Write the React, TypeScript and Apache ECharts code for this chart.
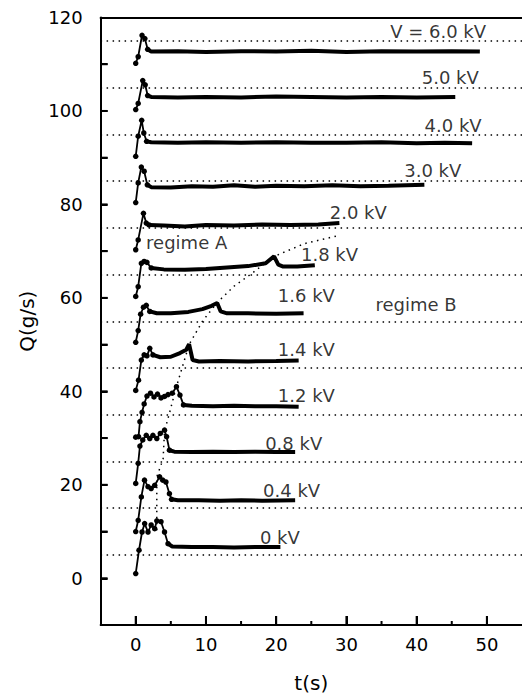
import React, { useEffect, useRef } from "react";
import * as echarts from "echarts";

const FONT = "'DejaVu Sans', 'Liberation Sans', Arial, sans-serif";

// dotted reference levels
const guideLevels = [5, 15, 25, 35, 45, 55, 65, 75, 85, 95, 105, 115];

// 6.0 kV
const rise60 = [[0, 110.2], [0.35, 111.6], [0.9, 116.2], [1.3, 115.5], [1.7, 113.2]];
const flat60 = [[1.7, 113.2], [2.2, 112.7], [6, 112.8], [10, 112.6], [15, 112.8], [20, 112.7], [25, 112.9], [30, 112.6], [35, 112.8], [40, 112.7], [45, 112.8], [49, 112.7]];
// 5.0 kV
const rise50 = [[0, 100.3], [0.35, 101.6], [1.0, 106.5], [1.35, 105.6], [1.7, 103.3]];
const flat50 = [[1.7, 103.3], [2.2, 103.0], [6, 102.9], [10, 103.0], [15, 102.9], [20, 103.1], [25, 103.0], [30, 102.9], [35, 103.0], [40, 102.9], [45.5, 103.0]];
// 4.0 kV
const rise40 = [[0, 90.3], [0.35, 94.6], [0.85, 98.0], [1.15, 95.3], [1.55, 93.5]];
const flat40 = [[1.55, 93.5], [2.2, 93.3], [6, 93.2], [10, 93.3], [15, 93.2], [20, 93.3], [25, 93.2], [30, 93.2], [35, 93.3], [40, 93.1], [44, 93.2], [47.9, 93.1]];
// 3.0 kV
const rise30 = [[0, 80.4], [0.35, 84.6], [0.8, 88.0], [1.2, 87.1], [1.65, 84.2]];
const flat30 = [[1.65, 84.2], [2.2, 83.7], [5, 83.6], [8, 83.9], [11, 83.8], [14, 84.1], [17, 83.8], [20, 84.0], [24, 83.9], [28, 84.1], [32, 83.9], [36, 84.0], [41.1, 84.2]];
// 2.0 kV
const rise20 = [[0, 70.3], [0.35, 72.4], [1.1, 78.1], [1.5, 76.0], [1.9, 75.6]];
const flat20 = [[1.9, 75.6], [4, 75.5], [7, 75.3], [10, 75.6], [14, 75.5], [18, 75.7], [22, 75.6], [26, 75.7], [29, 76.0]];
// 1.8 kV
const rise18 = [[0, 60.3], [0.35, 62.4], [0.8, 67.4], [1.2, 67.8], [1.6, 67.6], [2.2, 66.4]];
const flat18 = [[2.2, 66.4], [4, 66.1], [7, 66.0], [10, 66.2], [13, 66.5], [16, 66.8], [18.5, 67.4], [19.7, 68.9], [20.3, 67.1], [21, 66.7], [23, 66.7], [25.5, 67.0]];
// 1.6 kV
const rise16 = [[0, 50.5], [0.35, 53.0], [0.7, 56.5], [1.1, 58.0], [1.5, 58.4], [2.0, 57.1]];
const flat16 = [[2.0, 57.1], [3, 56.7], [5, 56.7], [7.5, 57.0], [9.5, 57.6], [10.8, 58.3], [11.6, 58.9], [12.1, 57.1], [13, 56.7], [16, 56.7], [20, 56.6], [23.9, 56.7]];
// 1.4 kV
const rise14 = [[0, 40.2], [0.4, 42.4], [0.8, 46.7], [1.2, 47.8], [1.6, 47.6], [2.0, 49.2], [2.45, 47.8]];
const flat14 = [[2.45, 47.8], [3.5, 47.3], [5, 47.4], [6.3, 48.2], [7.2, 48.9], [7.6, 50.1], [8.1, 46.7], [9, 46.4], [12, 46.5], [16, 46.4], [20, 46.5], [23.2, 46.6]];
// 1.2 kV
const rise12 = [[0, 30.2], [0.4, 30.3], [0.6, 33.5], [0.9, 35.5], [1.2, 37.3], [1.6, 39.0], [2.1, 39.6], [2.6, 38.8], [3.1, 39.4], [3.6, 38.6], [4.1, 38.9], [4.6, 39.3], [5.2, 39.6], [5.8, 41.0], [6.3, 39.2], [6.8, 37.1]];
const flat12 = [[6.8, 37.1], [8, 36.9], [11, 36.8], [14, 36.9], [17, 36.8], [20, 36.8], [23.2, 36.7]];
// 0.8 kV
const rise08 = [[0, 20.3], [0.35, 24.6], [0.6, 28.3], [1.0, 29.6], [1.5, 30.6], [2.0, 29.9], [2.45, 30.6], [3.0, 29.9], [3.5, 31.0], [4.1, 31.7], [4.4, 30.3], [4.8, 27.4]];
const flat08 = [[4.8, 27.4], [5.5, 27.1], [8, 27.0], [11, 27.1], [14, 27.0], [17, 27.1], [20, 27.0], [22.7, 27.0]];
// 0.4 kV
const rise04 = [[0, 10.0], [0.35, 12.4], [0.8, 17.4], [1.25, 21.0], [1.75, 19.6], [2.2, 19.2], [2.7, 19.9], [3.4, 21.7], [3.85, 21.0], [4.3, 20.6], [4.8, 18.1], [5.1, 16.9]];
const flat04 = [[5.1, 16.9], [6, 16.7], [9, 16.7], [12, 16.6], [15, 16.7], [18, 16.6], [22.7, 16.7]];
// 0 kV
const rise00 = [[0, 1.0], [0.47, 6.0], [0.9, 9.9], [1.27, 11.7], [1.75, 9.9], [2.2, 11.4], [2.7, 10.6], [3.0, 12.3], [3.6, 12.1], [4.1, 9.9], [4.6, 7.4]];
const flat00 = [[4.6, 7.4], [5.2, 6.8], [8, 6.7], [11, 6.7], [14, 6.6], [17, 6.7], [20.6, 6.7]];

// regime boundary (dotted curve)
const boundary = [[3.0, 10.3], [3.0, 21.7], [3.9, 25.5], [4.1, 31.5], [4.8, 35.3], [5.7, 40.5], [7.6, 50], [9.5, 55], [11.6, 59], [14, 62.5], [16.6, 65.3], [19.6, 68.8], [24, 71.6], [28.8, 73.3]];

// annotation texts
const labelTexts = ["V = 6.0 kV", "5.0 kV", "4.0 kV", "3.0 kV", "2.0 kV", "1.8 kV", "1.6 kV", "1.4 kV", "1.2 kV", "0.8 kV", "0.4 kV", "0 kV", "regime A", "regime B"];
const labelT = [36.3, 40.8, 41.2, 38.3, 27.7, 23.6, 20.3, 20.3, 20.3, 18.5, 18.2, 17.75, 1.55, 34.2];
const labelQ = [116.8, 107.0, 96.8, 87.1, 78.1, 69.2, 60.3, 48.8, 38.9, 28.7, 18.7, 8.7, 71.8, 58.5];

// axis ticks
const xMajorTicks = [0, 10, 20, 30, 40, 50];
const xMinorTicks = [5, 15, 25, 35, 45];
const yTicks = [0, 10, 20, 30, 40, 50, 60, 70, 80, 90, 100, 110];
const X_MIN = -5;
const X_MAX = 55;
const Y_MIN = -10;
const Y_MAX = 120;

const curves = [
  [rise60, flat60], [rise50, flat50], [rise40, flat40], [rise30, flat30],
  [rise20, flat20], [rise18, flat18], [rise16, flat16], [rise14, flat14],
  [rise12, flat12], [rise08, flat08], [rise04, flat04], [rise00, flat00],
];

const axisLineStyle = { color: "#000", width: 2 };

export default function App() {
  const ref = useRef<HTMLDivElement>(null);
  useEffect(() => {
    if (!ref.current) return;
    const chart = echarts.init(ref.current, null, { renderer: "svg" });
    const series: any[] = [];
    curves.forEach(([rise, flat]) => {
      series.push({
        type: "line",
        data: rise,
        symbol: "circle",
        symbolSize: 5.5,
        lineStyle: { color: "#000", width: 1.8 },
        itemStyle: { color: "#000" },
        z: 3,
        silent: true,
      });
      series.push({
        type: "line",
        data: flat,
        symbol: "none",
        lineStyle: { color: "#000", width: 4 },
        z: 3,
        silent: true,
      });
    });
    series.push({
      type: "line",
      data: boundary,
      symbol: "none",
      lineStyle: { color: "#000", width: 1.5, type: [1.5, 4.5] },
      z: 2,
      silent: true,
      markLine: {
        silent: true,
        symbol: "none",
        label: { show: false },
        lineStyle: { color: "#000", width: 1.5, type: [1.5, 4.5] },
        data: guideLevels.map((v) => ({ yAxis: v })),
      },
    });
    series.push({
      type: "scatter",
      data: labelT.map((t, i) => [t, labelQ[i], labelTexts[i]]),
      symbolSize: 1,
      itemStyle: { color: "rgba(0,0,0,0)" },
      silent: true,
      z: 5,
      label: {
        show: true,
        position: [0, 0],
        align: "left",
        verticalAlign: "middle",
        formatter: (p: any) => p.data[2],
        fontSize: 18,
        fontFamily: FONT,
        color: "#000",
      },
    });
    // tick marks drawn through the axes' own scales
    const tickData = [
      ...yTicks.map((v) => [v, 0]),
      ...xMajorTicks.map((v) => [v, 1]),
      ...xMinorTicks.map((v) => [v, 2]),
    ];
    series.push({
      type: "custom",
      data: tickData,
      silent: true,
      clip: false,
      z: 20,
      encode: { x: 0, y: 1 },
      renderItem: (_params: any, api: any) => {
        const v = api.value(0);
        const kind = api.value(1);
        const style = { stroke: "#000", lineWidth: 2, fill: null };
        if (kind === 0) {
          const p = api.coord([X_MIN, v]);
          return { type: "line", shape: { x1: p[0], y1: p[1], x2: p[0] + 7, y2: p[1] }, style };
        }
        const p = api.coord([v, Y_MIN]);
        const len = kind === 1 ? 9 : 4;
        return { type: "line", shape: { x1: p[0], y1: p[1], x2: p[0], y2: p[1] - len }, style };
      },
    });

    chart.setOption({
      animation: false,
      grid: { left: 100.6, right: -3.4, top: 17.5, bottom: 73, show: false },
      xAxis: [
        {
          type: "value", min: X_MIN, max: X_MAX, position: "bottom",
          name: "t(s)", nameLocation: "middle", nameGap: 48,
          nameTextStyle: { fontSize: 20, fontFamily: FONT, color: "#000" },
          axisLine: { show: true, onZero: false, lineStyle: axisLineStyle },
          axisTick: { show: true, inside: true, length: 9, customValues: xMajorTicks, lineStyle: axisLineStyle },
          axisLabel: { show: true, customValues: xMajorTicks, margin: 10, fontSize: 18, fontFamily: FONT, color: "#000" },
          splitLine: { show: false }, z: 10,
        },
        {
          type: "value", min: X_MIN, max: X_MAX, position: "top",
          axisLine: { show: true, onZero: false, lineStyle: axisLineStyle },
          axisTick: { show: false }, axisLabel: { show: false },
          splitLine: { show: false }, z: 10,
        },
      ],
      yAxis: [
        {
          type: "value", min: Y_MIN, max: Y_MAX, interval: 10, position: "left",
          name: "Q(g/s)", nameLocation: "middle", nameGap: 58,
          nameTextStyle: { fontSize: 20, fontFamily: FONT, color: "#000" },
          axisLine: { show: true, onZero: false, lineStyle: axisLineStyle },
          axisTick: { show: true, inside: true, length: 7, lineStyle: axisLineStyle },
          axisLabel: {
            show: true, margin: 18, fontSize: 18, fontFamily: FONT, color: "#000",
            formatter: (x: number) => (x % 20 === 0 ? String(x) : ""),
          },
          splitLine: { show: false }, z: 10,
        },
      ],
      series,
    });

    return () => chart.dispose();
  }, []);
  return <div ref={ref} style={{ position: "absolute", left: 0, top: 0, width: 522, height: 698 }} />;
}
